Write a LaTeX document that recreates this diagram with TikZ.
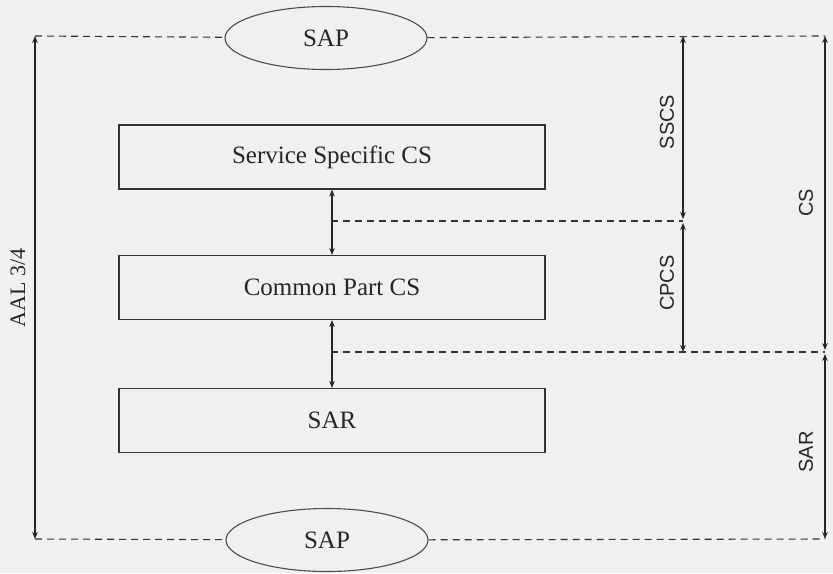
\documentclass[tikz,border=0pt]{standalone}
\usepackage{fontspec}
\setmainfont{Liberation Serif}
\newfontfamily\tagfont{Liberation Sans}
\usetikzlibrary{shapes,positioning,arrows.meta}

\tikzset{
  layer/.style={draw=black!80,line width=0.6pt,minimum width=213pt,minimum height=32pt,
    text=black!85,font=\fontsize{12.5}{14}\selectfont},
  sap/.style={draw=black!70,line width=0.55pt,ellipse,minimum width=101pt,minimum height=31.5pt,
    inner sep=0pt,text=black!85,font=\fontsize{12.5}{14}\selectfont},
  span/.style={draw=black!85,line width=0.6pt,{Stealth[length=3.5pt,width=2.8pt]}-{Stealth[length=3.5pt,width=2.8pt]}},
  bound/.style={draw=black!80,line width=0.55pt,dash pattern=on 3.5pt off 2.5pt},
  tag/.style={rotate=90,text=black!85,font=\tagfont\fontsize{10}{12}\selectfont}
}

\begin{document}
\begin{tikzpicture}[x=0.5pt,y=-0.5pt]
  \fill[black!6] (0,0) rectangle (833,573);
  \useasboundingbox (0,0) rectangle (833,573);

  % service access points
  \node [sap] (sapT) at (326,38) {SAP};
  \node [sap] (sapB) at (327,540) {SAP};

  % sublayers
  \node [layer] (ssc) at (332,157) {Service Specific CS};
  \node [layer] (cpc) at (332,287.5) {Common Part CS};
  \node [layer] (sar) at (332,420.5) {SAR};

  \coordinate (tl) at (35,36);
  \coordinate (tr) at (825,36);
  \coordinate (bl) at (35,539);
  \coordinate (br) at (825,539);
  \coordinate (t1) at (683,36);
  \coordinate (m1) at (683,221);
  \coordinate (m1l) at (331,221);
  \coordinate (m2) at (825,352);
  \coordinate (m2c) at (683,352);
  \coordinate (m2l) at (331,352);

  % boundaries
  \draw [bound] (tl) -- (sapT) (sapT) -- (tr);
  \draw [bound] (bl) -- (sapB) (sapB) -- (br);
  \draw [bound] (m1l) -- (m1);
  \draw [bound] (m2l) -- (m2);

  % extents
  \draw [span] (ssc) -- (cpc);
  \draw [span] (cpc) -- (sar);
  \draw [span] (tl) -- (bl);
  \draw [span,shorten >=1pt] (t1) -- (m1);
  \draw [span,shorten <=1pt] (m1) -- (m2c);
  \draw [span,shorten >=1pt] (tr) -- (m2);
  \draw [span,shorten <=1pt] (m2) -- (br);

  \node [tag,font=\fontsize{11}{13}\selectfont] (aal) at (18,288) {AAL 3/4};
  \node [tag] (sscs) at (667,122) {SSCS};
  \node [tag] (cpcs) at (667,283) {CPCS};
  \node [tag] (cs) at (806,203) {CS};
  \node [tag] (sarl) at (806,452) {SAR};
\end{tikzpicture}
\end{document}
